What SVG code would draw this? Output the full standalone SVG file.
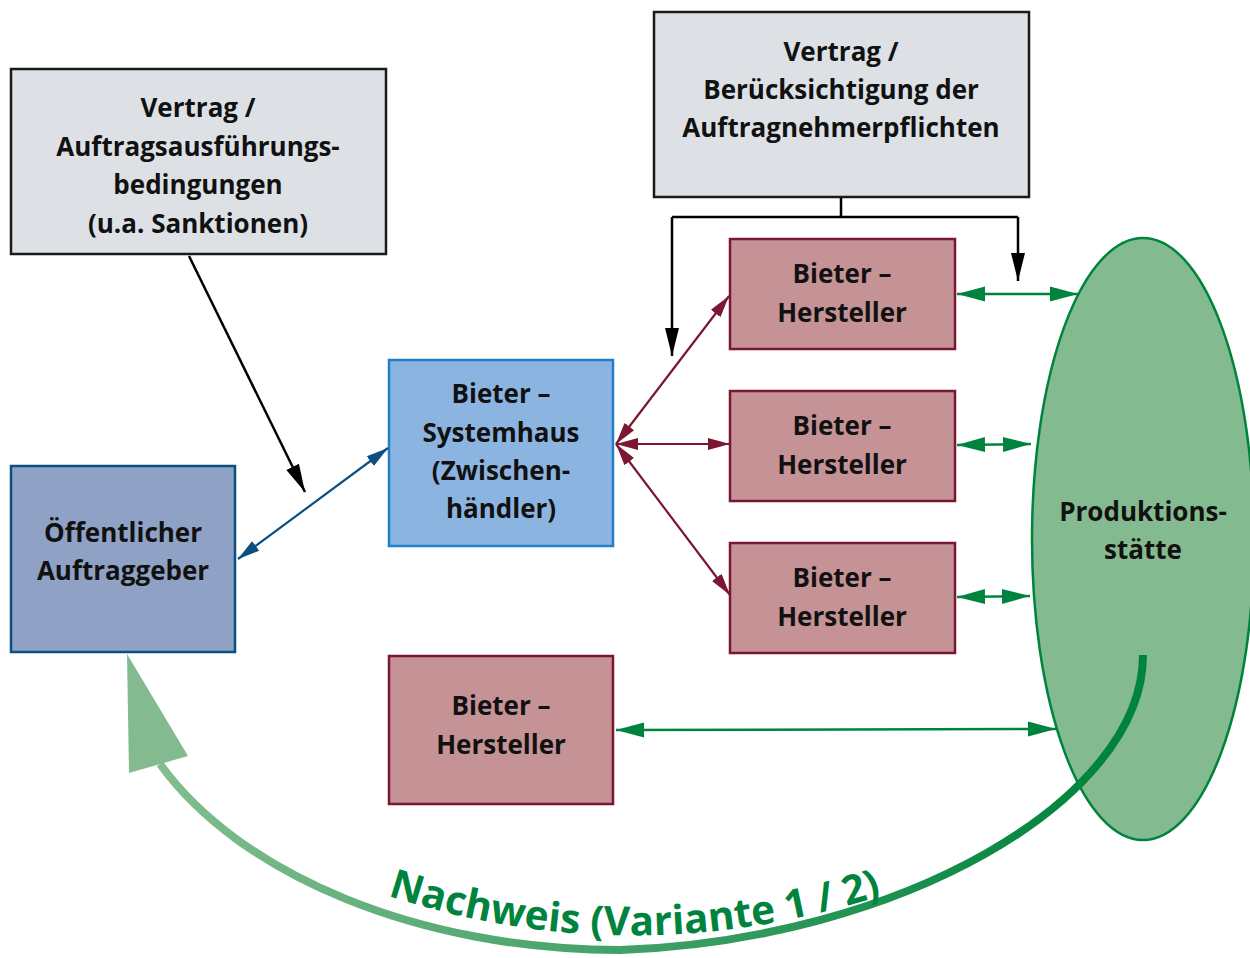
<svg xmlns="http://www.w3.org/2000/svg" width="1250" height="958" viewBox="0 0 1250 958">
<style>
text{font-family:"Open Sans",Lato,"Liberation Sans",sans-serif;font-weight:bold;font-size:26px;fill:#111;text-anchor:middle}
.gray{fill:#dde1e5;stroke:#1a1a1a;stroke-width:2.5}
.bieter{fill:#c59296;stroke:#7b1732;stroke-width:2.5}
.blk{stroke:#000;stroke-width:2.5;fill:none}
.red{stroke:#7b1732;stroke-width:2.2;fill:none}
.grn{stroke:#00843d;stroke-width:2.5;fill:none}
.blu{stroke:#0d4f80;stroke-width:2.2;fill:none}
</style>
<defs>
<marker id="mBlk" markerUnits="userSpaceOnUse" markerWidth="30" markerHeight="16" refX="28" refY="7" orient="auto-start-reverse" viewBox="0 0 30 14"><path d="M0,0 L28,7 L0,14 Z" fill="#000"/></marker>
<marker id="mRed" markerUnits="userSpaceOnUse" markerWidth="24" markerHeight="14" refX="22" refY="6" orient="auto-start-reverse" viewBox="0 0 24 12"><path d="M0,0 L22,6 L0,12 Z" fill="#7b1732"/></marker>
<marker id="mGrn" markerUnits="userSpaceOnUse" markerWidth="30" markerHeight="16" refX="28" refY="7.5" orient="auto-start-reverse" viewBox="0 0 30 15"><path d="M0,0 L28,7.5 L0,15 Z" fill="#00843d"/></marker>
<marker id="mBlu" markerUnits="userSpaceOnUse" markerWidth="24" markerHeight="14" refX="22" refY="6" orient="auto-start-reverse" viewBox="0 0 24 12"><path d="M0,0 L22,6 L0,12 Z" fill="#0d4f80"/></marker>
<linearGradient id="gCurve" gradientUnits="userSpaceOnUse" x1="130" y1="0" x2="1100" y2="0">
<stop offset="0" stop-color="#86bf91"/><stop offset="1" stop-color="#00843d"/>
</linearGradient>
<path id="tp" d="M380,893 Q630,978 890,893"/>
</defs>

<g id="produktionsstaette">
<ellipse cx="1143" cy="539" rx="111" ry="301" fill="#84ba8f" stroke="#00843d" stroke-width="2.5"/>
<text x="1143" y="521">Produktions-</text>
<text x="1143" y="559">stätte</text>
</g>

<g id="vertrag-links">
<rect class="gray" x="11" y="69" width="375" height="185"/>
<text x="198" y="117">Vertrag /</text>
<text x="198" y="156">Auftragsausführungs-</text>
<text x="198" y="194">bedingungen</text>
<text x="198" y="233">(u.a. Sanktionen)</text>
</g>

<g id="vertrag-rechts">
<rect class="gray" x="654" y="12" width="375" height="185"/>
<text x="841" y="61">Vertrag /</text>
<text x="841" y="99">Berücksichtigung der</text>
<text x="841" y="137">Auftragnehmerpflichten</text>
</g>

<g id="auftraggeber">
<rect x="11" y="466" width="224" height="186" fill="#8fa2c5" stroke="#0d4f80" stroke-width="2.5"/>
<text x="123" y="542">Öffentlicher</text>
<text x="123" y="580">Auftraggeber</text>
</g>

<g id="systemhaus">
<rect x="389" y="360" width="224" height="186" fill="#8cb4e0" stroke="#1f7fc8" stroke-width="2.5"/>
<text x="501" y="403">Bieter –</text>
<text x="501" y="442">Systemhaus</text>
<text x="501" y="480">(Zwischen-</text>
<text x="501" y="518">händler)</text>
</g>

<g id="hersteller1">
<rect class="bieter" x="730" y="239" width="225" height="110"/>
<text x="842" y="283">Bieter –</text>
<text x="842" y="322">Hersteller</text>
</g>
<g id="hersteller2">
<rect class="bieter" x="730" y="391" width="225" height="110"/>
<text x="842" y="435">Bieter –</text>
<text x="842" y="474">Hersteller</text>
</g>
<g id="hersteller3">
<rect class="bieter" x="730" y="543" width="225" height="110"/>
<text x="842" y="587">Bieter –</text>
<text x="842" y="626">Hersteller</text>
</g>
<g id="hersteller4">
<rect class="bieter" x="389" y="656" width="224" height="148"/>
<text x="501" y="715">Bieter –</text>
<text x="501" y="754">Hersteller</text>
</g>

<g id="connectors">
<path class="blk" d="M841,198 V217"/>
<path class="blk" d="M672,217 H1018"/>
<path class="blk" d="M672,217 V356" marker-end="url(#mBlk)"/>
<path class="blk" d="M1018,217 V281" marker-end="url(#mBlk)"/>
<path class="blk" d="M189,256 L305,492" marker-end="url(#mBlk)"/>
<path class="blu" d="M238,559 L388,448" marker-start="url(#mBlu)" marker-end="url(#mBlu)"/>
<path class="red" d="M616,444 L729,296" marker-start="url(#mRed)" marker-end="url(#mRed)"/>
<path class="red" d="M616,444 L730,444" marker-start="url(#mRed)" marker-end="url(#mRed)"/>
<path class="red" d="M616,444 L730,595" marker-start="url(#mRed)" marker-end="url(#mRed)"/>
<path class="grn" d="M957,294 L1078,294" marker-start="url(#mGrn)" marker-end="url(#mGrn)"/>
<path class="grn" d="M957,445 L1031,444" marker-start="url(#mGrn)" marker-end="url(#mGrn)"/>
<path class="grn" d="M957,597 L1030,596" marker-start="url(#mGrn)" marker-end="url(#mGrn)"/>
<path class="grn" d="M616,730 L1056,729" marker-start="url(#mGrn)" marker-end="url(#mGrn)"/>
<path d="M1143,655 C1143,800 900,940 620,950 C420,950 240,875 160,764" fill="none" stroke="url(#gCurve)" stroke-width="8"/>
<polygon points="127,654 188,756 129,773" fill="#84ba8f"/>
<text style="font-size:40.5px;fill:#00843d;text-anchor:start"><textPath href="#tp" startOffset="8">Nachweis (Variante 1 / 2)</textPath></text>
</g>
</svg>
